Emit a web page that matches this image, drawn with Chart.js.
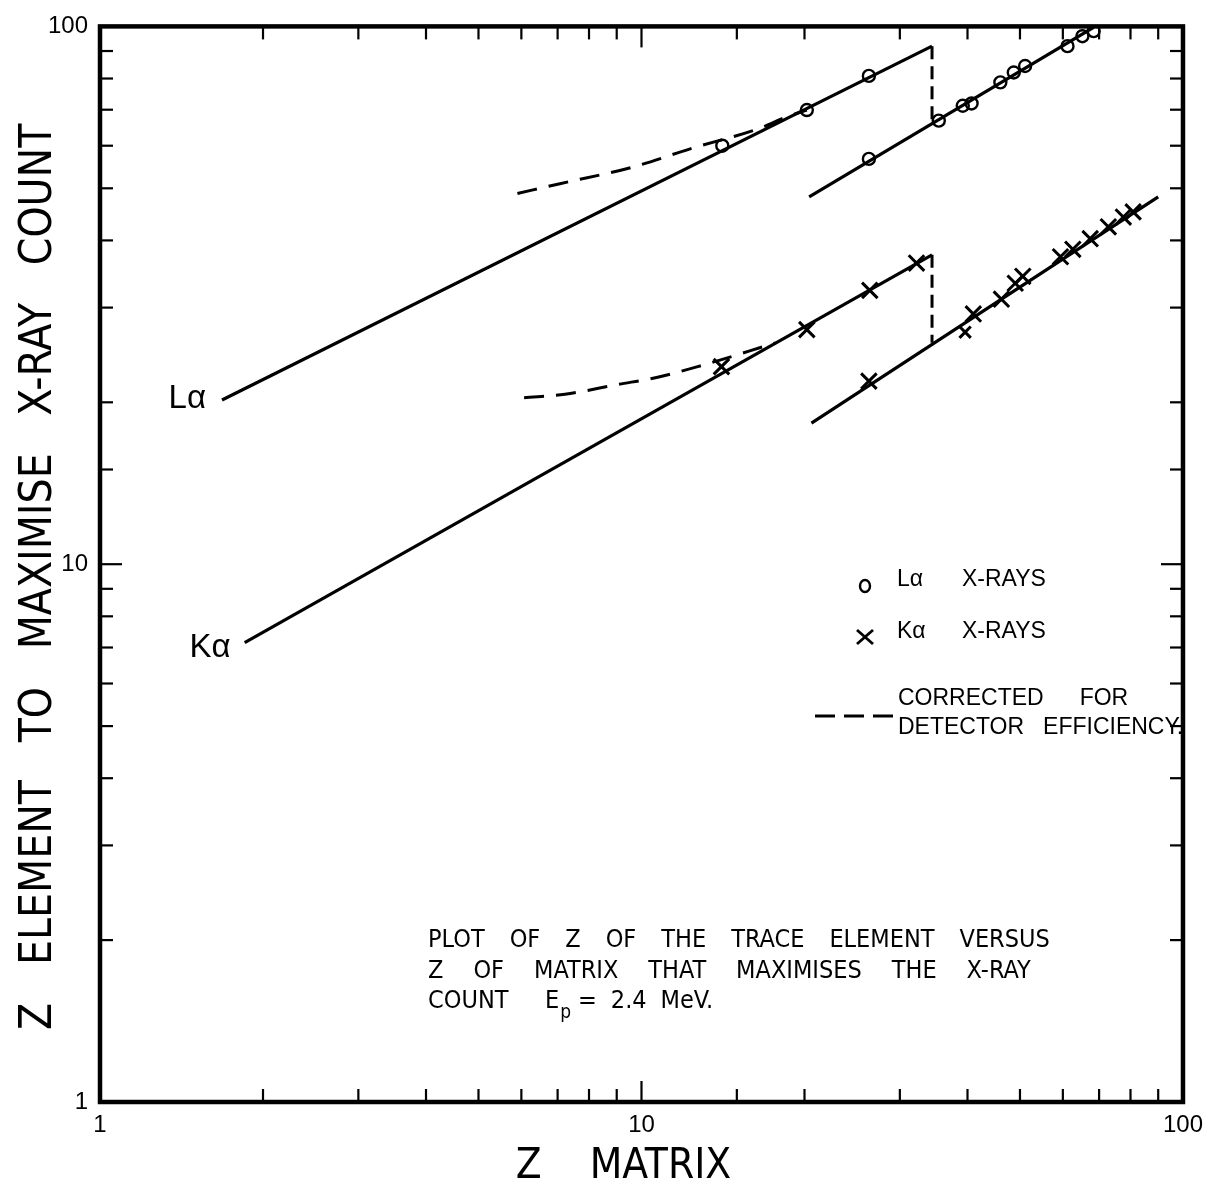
<!DOCTYPE html>
<html>
<head>
<meta charset="utf-8">
<script src="https://cdn.jsdelivr.net/npm/chart.js@4/dist/chart.umd.min.js"></script>
<style>
  html, body { margin: 0; padding: 0; background: #fff; }
  #wrap { width: 1212px; height: 1190px; }
</style>
</head>
<body>
<div id="wrap"><canvas id="zChart" width="1212" height="1190"></canvas></div>
<script>
// Z of matrix (x) vs Z of trace element (y), log-log
const laZ = [14.1, 20.2, 26.3, 26.3, 35.4, 39.2, 40.7, 46.0, 48.7, 51.1, 61.2, 65.2, 68.4];
const laCount = [60.0, 69.9, 80.9, 56.7, 66.8, 71.2, 71.9, 78.7, 82.1, 84.4, 91.9, 95.9, 98.0];
const kaZ = [14.05, 20.2, 26.4, 32.2, 26.3, 39.6, 41.0, 46.2, 49.0, 50.6, 59.4, 62.6, 67.4, 72.8, 77.6, 80.9];
const kaCount = [23.3, 27.3, 32.3, 36.3, 21.9, 27.0, 29.2, 31.1, 33.3, 34.3, 37.3, 38.5, 40.3, 42.4, 44.2, 45.2];

// fitted lines
const laLowZ = [1.68, 34.4];
const laLowCount = [20.2, 91.9];
const laHighZ = [20.4, 68.4];
const laHighCount = [48.2, 99.6];
const laStepZ = [34.4, 34.4];
const laStepCount = [91.9, 65.5];
const laCorrZ = [5.9, 7.07, 9.6, 12.3, 16.7, 18.4, 20.2];
const laCorrCount = [48.9, 51.0, 54.7, 59.2, 64.9, 67.7, 69.9];

const kaLowZ = [1.85, 34.4];
const kaLowCount = [7.15, 37.6];
const kaHighZ = [20.6, 90.0];
const kaHighCount = [18.3, 48.2];
const kaStepZ = [34.4, 34.4];
const kaStepCount = [37.6, 25.8];
const kaCorrZ = [6.07, 7.22, 9.07, 10.56, 12.7, 17.7];
const kaCorrCount = [20.4, 20.7, 21.6, 22.2, 23.3, 25.8];

const majorTicks = [1, 10, 100];

const NARROW = "'Liberation Sans Narrow', 'DejaVu Sans Condensed', 'Liberation Sans', sans-serif";
const WIDE = "'Liberation Sans', 'DejaVu Sans', sans-serif";

const toPts = (xs, ys) => xs.map((x, i) => ({ x: x, y: ys[i] }));

function lineSet(xs, ys, dash, curve) {
  return {
    data: toPts(xs, ys),
    showLine: true,
    pointRadius: 0,
    borderColor: '#000',
    borderWidth: dash ? 3 : 3.2,
    borderDash: dash || [],
    tension: curve ? 0.4 : 0,
    cubicInterpolationMode: curve ? 'monotone' : 'default',
  };
}

function spaced(ctx, words, x, y, gap) {
  let cx = x;
  words.forEach(w => {
    ctx.fillText(w, cx, y);
    cx += ctx.measureText(w).width + gap;
  });
  return cx;
}

// frame, inward ticks, labels, legend and caption
const decorations = {
  id: 'decorations',
  afterDatasetsDraw(chart) {
    const { ctx, chartArea: a, scales } = chart;
    const x = scales.x, y = scales.y;
    ctx.save();
    ctx.strokeStyle = '#000';
    ctx.fillStyle = '#000';
    ctx.lineCap = 'butt';

    const seg = (x1, y1, x2, y2) => {
      ctx.beginPath(); ctx.moveTo(x1, y1); ctx.lineTo(x2, y2); ctx.stroke();
    };
    ctx.lineWidth = 2.2;
    x.ticks.forEach(t => {
      if (t.value <= 1 || t.value >= 100) return;
      const px = x.getPixelForValue(t.value);
      const len = majorTicks.includes(t.value) ? 21 : 13;
      seg(px, a.bottom, px, a.bottom - len);
      seg(px, a.top, px, a.top + len);
    });
    y.ticks.forEach(t => {
      if (t.value <= 1 || t.value >= 100) return;
      const py = y.getPixelForValue(t.value);
      const len = majorTicks.includes(t.value) ? 22 : 13;
      seg(a.left, py, a.left + len, py);
      seg(a.right, py, a.right - len, py);
    });
    ctx.lineWidth = 4.5;
    ctx.strokeRect(a.left, a.top, a.right - a.left, a.bottom - a.top);

    // series names at start of fitted lines
    ctx.font = '33px ' + WIDE;
    ctx.textAlign = 'right';
    ctx.textBaseline = 'middle';
    ctx.fillText('Lα', x.getPixelForValue(laLowZ[0]) - 16, y.getPixelForValue(laLowCount[0]) - 1);
    ctx.fillText('Kα', x.getPixelForValue(kaLowZ[0]) - 14, y.getPixelForValue(kaLowCount[0]) + 5);

    // legend
    const lx = a.left + 765;
    ctx.textAlign = 'left';
    ctx.font = '23px ' + WIDE;
    ctx.lineWidth = 2.4;
    ctx.beginPath(); ctx.ellipse(lx, 586, 5, 6, 0, 0, Math.PI * 2); ctx.stroke();
    ctx.fillText('Lα', lx + 32, 580);
    ctx.fillText('X-RAYS', lx + 97, 580);
    ctx.lineWidth = 2.8;
    seg(lx - 8, 630, lx + 8, 644);
    seg(lx + 8, 630, lx - 8, 644);
    ctx.fillText('Kα', lx + 32, 632);
    ctx.fillText('X-RAYS', lx + 97, 632);
    ctx.lineWidth = 3;
    ctx.setLineDash([20, 9]);
    seg(a.left + 715, 716, a.left + 795, 716);
    ctx.setLineDash([]);
    spaced(ctx, ['CORRECTED', 'FOR'], lx + 33, 699, 36);
    spaced(ctx, ['DETECTOR', 'EFFICIENCY.'], lx + 33, 728, 19);

    // caption
    ctx.font = '25px ' + NARROW;
    const cx0 = a.left + 328;
    spaced(ctx, ['PLOT', 'OF', 'Z', 'OF', 'THE', 'TRACE', 'ELEMENT', 'VERSUS'], cx0, 940, 25);
    spaced(ctx, ['Z', 'OF', 'MATRIX', 'THAT', 'MAXIMISES', 'THE', 'X-RAY'], cx0, 971, 30);
    spaced(ctx, ['COUNT'], cx0, 1001, 0);
    let ex = cx0 + 117;
    ctx.fillText('E', ex, 1001);
    ex += ctx.measureText('E').width + 1;
    ctx.font = '19px ' + NARROW;
    ctx.fillText('p', ex, 1013);
    ctx.font = '25px ' + NARROW;
    spaced(ctx, ['=', '2.4', 'MeV.'], cx0 + 150, 1001, 14);
    ctx.restore();
  }
};

const ctx = document.getElementById('zChart').getContext('2d');
const chart = new Chart(ctx, {
  type: 'scatter',
  data: {
    datasets: [
      {
        label: 'Lα X-RAYS',
        data: toPts(laZ, laCount),
        pointStyle: 'circle',
        pointRadius: 6,
        pointBorderWidth: 2.4,
        borderColor: '#000',
        backgroundColor: 'rgba(0,0,0,0)',
      },
      {
        label: 'Kα X-RAYS',
        data: toPts(kaZ, kaCount),
        pointStyle: 'crossRot',
        pointRadius: kaZ.map((z, i) => (i === 5 ? 8 : 11)),
        pointBorderWidth: 3,
        borderColor: '#000',
        backgroundColor: '#000',
      },
      lineSet(laLowZ, laLowCount, null, false),
      lineSet(laHighZ, laHighCount, null, false),
      lineSet(laStepZ, laStepCount, [13, 7], false),
      lineSet(laCorrZ, laCorrCount, [20, 12], true),
      lineSet(kaLowZ, kaLowCount, null, false),
      lineSet(kaHighZ, kaHighCount, null, false),
      lineSet(kaStepZ, kaStepCount, [13, 7], false),
      lineSet(kaCorrZ, kaCorrCount, [20, 12], true),
    ],
  },
  options: {
    responsive: false,
    animation: false,
    layout: { padding: { top: 22, right: 22, left: 0, bottom: 0 } },
    plugins: { legend: { display: false }, tooltip: { enabled: false } },
    scales: {
      x: {
        type: 'logarithmic',
        min: 1,
        max: 100,
        grid: { display: false, drawTicks: false },
        border: { display: false },
        ticks: {
          autoSkip: false,
          maxRotation: 0,
          padding: 9,
          color: '#000',
          font: { family: WIDE, size: 24 },
          callback: v => (majorTicks.includes(v) ? String(v) : ''),
        },
        title: {
          display: true,
          text: 'Z    MATRIX   ',
          color: '#000',
          font: { family: NARROW, size: 42, lineHeight: 1 },
          padding: { top: 0, bottom: 2 },
        },
        afterFit: s => { s.height = 88; },
      },
      y: {
        type: 'logarithmic',
        min: 1,
        max: 100,
        grid: { display: false, drawTicks: false },
        border: { display: false },
        ticks: {
          autoSkip: false,
          padding: 12,
          color: '#000',
          font: { family: WIDE, size: 24 },
          callback: v => (majorTicks.includes(v) ? String(v) : ''),
        },
        title: {
          display: true,
          text: 'Z   ELEMENT   TO   MAXIMISE   X-RAY   COUNT  ',
          color: '#000',
          font: { family: NARROW, size: 44, lineHeight: 1 },
          padding: { top: 18, bottom: 0 },
        },
        afterFit: s => { s.width = 100; },
      },
    },
  },
  plugins: [decorations],
});
</script>
</body>
</html>
